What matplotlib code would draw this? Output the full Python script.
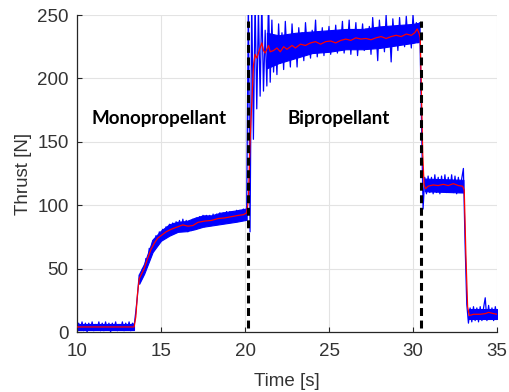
import numpy as np
import matplotlib
matplotlib.use("Agg")
import matplotlib.pyplot as plt

# raw thrust samples, 0.1 s spacing, per phase
idle_start = 10.0
idle_thrust = [1, 7, 2, 8, 1, 7, 0, 7, 2, 8, 1, 6, 2, 8, 1, 7, 1, 8, 2, 7,
               0, 7, 2, 8, 1, 6, 2, 8, 1, 7, 2, 8, 1, 7]

mono_start = 13.4
mono_thrust = [5, 16, 29, 45, 41, 50, 48,
               58, 54, 66, 61, 72, 66, 76, 70, 79, 72, 81, 74, 83, 76, 85, 77,
               86, 78, 87, 79, 88, 80, 89, 80, 88, 79, 87, 80, 89, 81, 90, 82,
               91, 83, 92, 83, 92, 84, 92, 84, 93, 85, 93, 85, 94, 86, 94, 86,
               95, 86, 95, 87, 95, 87, 96, 88, 96, 88, 97, 89, 96]

bi_start = 20.2
bi_thrust = [262, 79, 262, 152, 262, 176, 255, 186, 262, 190, 238, 194, 262, 197,
             246, 205, 232, 203, 243, 212, 236, 207, 245, 218, 230, 209, 243, 220,
             234, 209, 240, 222, 236, 214, 244, 225, 230, 216, 238, 224, 246, 217,
             233, 222, 240, 218, 236, 226, 241, 219, 233, 225, 242, 220, 236, 228,
             245, 220, 235, 226, 246, 219, 237, 228, 244, 218, 236, 229, 243, 222,
             239, 227, 241, 219, 248, 229, 237, 214, 246, 228, 238, 221, 250, 226,
             239, 213, 247, 230, 240, 222, 248, 227, 238, 225, 249, 229, 241, 224,
             250, 231, 244, 228, 244]

hold_start = 30.5
hold_thrust = [170, 97, 122, 109, 123, 110, 122, 109, 124, 110, 122, 109, 123,
               111, 124, 110, 122, 111, 124, 110, 123, 109, 122, 110, 121, 129]

tail_start = 33.1
tail_thrust = [70, 22, 7, 19, 8, 20, 9, 19, 8, 20, 9, 19, 27, 9, 21, 10, 19, 9, 20, 10]

# dense core of the noise band (min / max)
band_segments = [
    ([10.0, 13.42], [1.5, 1.5], [6.5, 6.5]),
    ([13.7, 14.0, 14.5, 15.0, 15.5, 16.0, 16.5, 17.0, 17.5, 18.0, 18.5, 19.0, 19.5, 20.1],
     [38, 46, 63, 72, 76, 79, 79.5, 81, 83, 84, 85, 86, 87, 88.5],
     [46, 54, 73, 80, 85, 87, 87.5, 90, 92, 92, 94, 95, 96, 97.5]),
    ([21.3, 22.0, 23.0, 24.0, 25.0, 26.0, 27.0, 28.0, 29.0, 30.0, 30.38],
     [208, 212, 216, 220, 221, 223, 223, 224, 226, 228, 229],
     [236, 234, 236, 237, 238, 239, 239, 241, 242, 243, 244]),
    ([30.7, 33.0], [111, 110], [121, 120]),
    ([33.35, 35.0], [10, 10], [18, 18]),
]

# smoothed thrust
smooth_time = [10.0, 11.0, 12.0, 13.0, 13.4, 13.5, 13.6, 13.7, 13.85, 14.0, 14.2,
               14.4, 14.6, 14.8, 15.0, 15.3, 15.6, 16.0, 16.3, 16.6, 16.9, 17.2,
               17.6, 18.0, 18.4, 18.8, 19.2, 19.6, 19.9, 20.1, 20.2, 20.3, 20.4,
               20.5, 20.6, 20.7, 20.8, 20.9, 21.0, 21.1, 21.2, 21.3, 21.4, 21.5,
               21.7, 21.9, 22.1, 22.3, 22.5, 22.8, 23.0, 23.3, 23.6, 23.9, 24.2,
               24.5, 24.8, 25.1, 25.4, 25.7, 26.0, 26.3, 26.6, 26.9, 27.2, 27.5,
               27.8, 28.1, 28.4, 28.7, 29.0, 29.3, 29.6, 29.9, 30.1, 30.25, 30.35,
               30.43, 30.5, 30.58, 30.66, 30.75, 30.9, 31.2, 31.5, 31.8, 32.1,
               32.4, 32.7, 32.95, 33.05, 33.15, 33.25, 33.35, 33.6, 34.0, 34.3,
               34.5, 34.8, 35.0]
smooth_thrust = [4, 4, 4, 4, 4, 12, 30, 42, 46, 50, 58, 65, 70, 74, 76, 79, 81,
                 83, 84.5, 83.5, 84, 86.5, 87.5, 88, 89.5, 90, 91, 92, 92.5, 94,
                 104, 150, 180, 210, 219, 216, 220, 224, 228, 222, 220, 223, 226,
                 221, 222, 224, 221, 225, 223, 226, 224, 227, 226, 228, 229, 227,
                 229, 229.5, 228, 230, 231, 230, 232, 231, 231.5, 230.5, 232, 233,
                 231.5, 233, 234, 233, 235, 234, 236, 239, 236, 232, 190, 140,
                 116, 113, 115, 116, 115.5, 116.5, 115.5, 117, 115.5, 115, 112,
                 60, 20, 13, 14, 14, 14.5, 15.5, 14.5, 14]

phase_switch = [20.15, 30.45]
phase_names = ["Monopropellant", "Bipropellant"]
phase_label_x = [14.87, 25.6]
phase_label_y = 168

fig = plt.figure(figsize=(5.1, 3.92), dpi=100)
ax = fig.add_axes([0.151, 0.153, 0.8235, 0.8087])

raw_t = np.concatenate([s + 0.1 * np.arange(len(v)) for s, v in
                        [(idle_start, idle_thrust), (mono_start, mono_thrust),
                         (bi_start, bi_thrust), (hold_start, hold_thrust),
                         (tail_start, tail_thrust)]])
raw_v = np.concatenate([idle_thrust, mono_thrust, bi_thrust, hold_thrust, tail_thrust])

for bt, lo, hi in band_segments:
    ax.fill_between(bt, lo, hi, color="#0000ff", lw=0.8, zorder=2)
ax.plot(raw_t, raw_v, color="#0000ff", lw=0.9, zorder=2)

ax.plot(smooth_time, smooth_thrust, color="#ff0000", lw=0.9, zorder=3)

for x in phase_switch:
    ax.plot([x, x], [3, 245], color="black", lw=2.2, linestyle=(0, (2.6, 1.5)), zorder=4)

for name, x in zip(phase_names, phase_label_x):
    ax.text(x, phase_label_y, name, ha="center", va="center", fontsize=13.5,
            fontweight="bold", family=["Lato", "DejaVu Sans"], zorder=5)

ax.set_xlim(10, 35)
ax.set_ylim(0, 250)
ax.set_xticks([10, 15, 20, 25, 30, 35])
ax.set_yticks([0, 50, 100, 150, 200, 250])
ax.grid(True, color="#e3e3e3", lw=0.8)
ax.set_axisbelow(True)
for side in ["top", "right"]:
    ax.spines[side].set_visible(False)
for side in ["left", "bottom"]:
    ax.spines[side].set_color("#262626")
    ax.spines[side].set_linewidth(0.9)

ax.tick_params(direction="in", length=3.5, width=0.8, color="#262626",
               labelcolor="#333333", labelsize=13.5)
ax.tick_params(axis="x", pad=8)
ax.tick_params(axis="y", pad=6)
for lab in ax.get_xticklabels() + ax.get_yticklabels():
    lab.set_family(["Liberation Sans", "DejaVu Sans"])

ax.set_xlabel("Time [s]", fontsize=13.5, color="#333333", family=["Liberation Sans"], labelpad=9)
ax.set_ylabel("Thrust [N]", fontsize=13.5, color="#333333", family=["Liberation Sans"], labelpad=4)

fig.savefig("out.png", dpi=100)
